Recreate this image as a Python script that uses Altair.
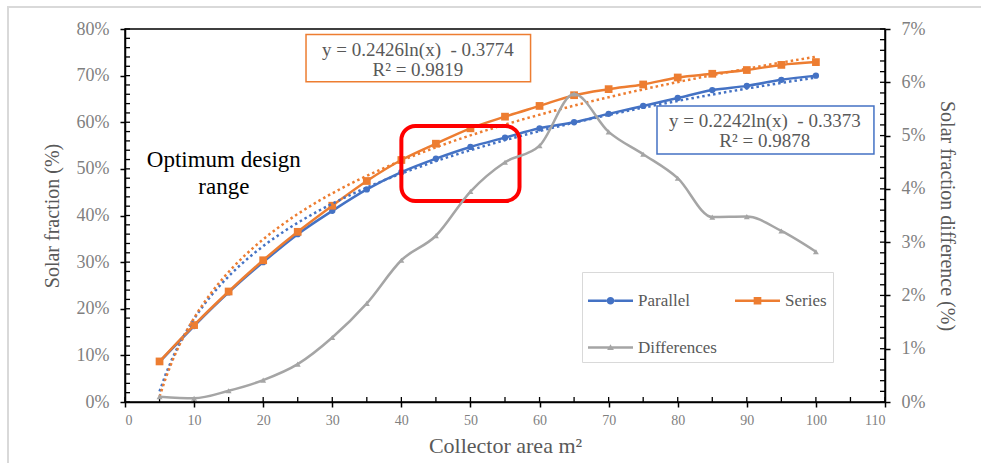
import altair as alt
import pandas as pd

# ---------------- data ----------------
area = [5, 10, 15, 20, 25, 30, 35, 40, 45, 50, 55, 60, 65, 70, 75, 80, 85, 90, 95, 100]
parallel_pct = [8.6, 16.3, 23.5, 30.0, 36.0, 41.0, 45.6, 49.3, 52.2, 54.7,
                56.7, 58.7, 60.0, 61.8, 63.5, 65.2, 66.9, 67.8, 69.1, 70.0]
series_pct = [8.7, 16.5, 23.7, 30.4, 36.5, 42.1, 47.4, 51.9, 55.4, 58.7,
              61.2, 63.5, 65.8, 67.1, 68.1, 69.6, 70.4, 71.2, 72.3, 72.9]
diff_pct = [0.10, 0.07, 0.21, 0.41, 0.71, 1.21, 1.85, 2.66, 3.12, 3.95,
            4.50, 4.81, 5.78, 5.07, 4.65, 4.20, 3.47, 3.48, 3.21, 2.82]

legend_names = ["Parallel", "Series", "Differences"]

left_ticks_pct = [0, 10, 20, 30, 40, 50, 60, 70, 80]
right_ticks_pct = [0, 1, 2, 3, 4, 5, 6, 7]
x_ticks = [0, 10, 20, 30, 40, 50, 60, 70, 80, 90, 100, 110]
left_minor_pct = list(range(0, 81, 2))
right_minor_pct = [round(i * 0.2, 1) for i in range(0, 36)]
x_minor = list(range(0, 111, 5))

eq_text = ["y = 0.2426ln(x) \u00a0- 0.3774", "R² = 0.9819",
           "y = 0.2242ln(x) \u00a0- 0.3373", "R² = 0.9878"]
eq_x = [42.4, 42.4, 92.6, 92.6]
eq_y_pct = [75.5, 71.2, 60.2, 55.9]

box_x = [26.2, 77.0]
box_x2 = [58.7, 108.4]
box_y_pct = [78.8, 63.5]
box_y2_pct = [68.7, 53.2]
box_color = ["#ED7D31", "#4472C4"]

opt_text = ["Optimum design", "range"]
opt_x = [14.3, 14.3]
opt_y_pct = [51.8, 46.2]

red_x, red_x2 = [40.0], [57.1]
red_y_pct, red_y2_pct = [59.2], [43.1]

# ---------------- styling ----------------
BLUE = "#4472C4"
ORANGE = "#ED7D31"
GRAY = "#A5A5A5"
TXT = "#595959"
LBL = "#7F7F7F"
FONT = "Liberation Serif"
W, H = 760, 373

df = pd.DataFrame({
    "area": area,
    "parallel": [v / 100 for v in parallel_pct],
    "series": [v / 100 for v in series_pct],
    "diff": [v / 100 for v in diff_pct],
})

x_scale = alt.Scale(domain=[0, 110], nice=False, zero=False)
yl_scale = alt.Scale(domain=[0, 0.8], nice=False)
yr_scale = alt.Scale(domain=[0, 0.07], nice=False)

axis_common = dict(
    grid=False, domainColor="black", domainWidth=1.5, tickColor="black",
    tickWidth=1.5, tickSize=5, labelFont=FONT, labelColor=LBL,
    titleFont=FONT, titleColor=TXT, titleFontWeight="normal",
)

x_axis = alt.Axis(title="Collector area m²", orient="bottom", values=x_ticks,
                  labelFontSize=14, labelPadding=6, titlePadding=8, titleFontSize=22,
                  **axis_common)
yl_axis = alt.Axis(title="Solar fraction (%)", orient="left",
                   values=[v / 100 for v in left_ticks_pct],
                   format=".0%", labelFontSize=18, labelPadding=11, titlePadding=14,
                   titleFontSize=20, **axis_common)
yr_axis = alt.Axis(title="Solar fraction difference (%)", orient="right",
                   values=[v / 100 for v in right_ticks_pct], format=".0%",
                   labelFontSize=18, labelPadding=11, titlePadding=12,
                   titleFontSize=20, **axis_common)

X = alt.X("area:Q", scale=x_scale, axis=None)

# axis carrier layers (invisible)
axis_left = alt.Chart(df).mark_point(opacity=0, size=1).encode(
    x=alt.X("area:Q", scale=x_scale, axis=x_axis),
    y=alt.Y("parallel:Q", scale=yl_scale, axis=yl_axis))
axis_right = alt.Chart(df).mark_point(opacity=0, size=1).encode(
    x=X, y=alt.Y("diff:Q", scale=yr_scale, axis=yr_axis))

# whole-figure frame (decoration)
frame = alt.Chart(pd.DataFrame({"a": [0]})).mark_rect(
    fillOpacity=0, stroke="#D9D9D9", strokeWidth=2
).encode(x=alt.value(-117), x2=alt.value(900), y=alt.value(-22), y2=alt.value(470))

par_line = alt.Chart(df).mark_line(color=BLUE, strokeWidth=2.5, interpolate="monotone").encode(
    x=X, y=alt.Y("parallel:Q", scale=yl_scale, axis=None))
par_pts = alt.Chart(df).mark_point(shape="circle", filled=True, size=40, color=BLUE, opacity=1).encode(
    x=X, y=alt.Y("parallel:Q", scale=yl_scale, axis=None))

ser_line = alt.Chart(df).mark_line(color=ORANGE, strokeWidth=2.5, interpolate="monotone").encode(
    x=X, y=alt.Y("series:Q", scale=yl_scale, axis=None))
ser_pts = alt.Chart(df).mark_point(shape="square", filled=True, size=60, color=ORANGE, opacity=1).encode(
    x=X, y=alt.Y("series:Q", scale=yl_scale, axis=None))

trend_par = alt.Chart(df).transform_regression(
    "area", "parallel", method="log", extent=[5, 100]
).mark_line(color=BLUE, strokeWidth=2.5, strokeDash=[2.5, 3]).encode(
    x=X, y=alt.Y("parallel:Q", scale=yl_scale, axis=None))

trend_ser = alt.Chart(df).transform_regression(
    "area", "series", method="log", extent=[5, 100]
).mark_line(color=ORANGE, strokeWidth=2.5, strokeDash=[2.5, 3]).encode(
    x=X, y=alt.Y("series:Q", scale=yl_scale, axis=None))

diff_line = alt.Chart(df).mark_line(color=GRAY, strokeWidth=2.5, interpolate="monotone").encode(
    x=X, y=alt.Y("diff:Q", scale=yr_scale, axis=None))
diff_pts = alt.Chart(df).mark_point(shape="triangle-up", filled=True, size=35, color=GRAY, opacity=1).encode(
    x=X, y=alt.Y("diff:Q", scale=yr_scale, axis=None))

# inner (minor) ticks
left_minor = alt.Chart(pd.DataFrame({"v": [v / 100 for v in left_minor_pct]})).mark_rule(
    color="black", strokeWidth=1.3
).encode(y=alt.Y("v:Q", scale=yl_scale, axis=None), x=alt.value(0), x2=alt.value(5))

bottom_minor = alt.Chart(pd.DataFrame({"v": x_minor})).mark_rule(
    color="black", strokeWidth=1.3
).encode(x=alt.X("v:Q", scale=x_scale, axis=None), y=alt.value(H - 5), y2=alt.value(H))

right_minor = alt.Chart(pd.DataFrame({"v": [v / 100 for v in right_minor_pct]})).mark_rule(
    color="black", strokeWidth=1.3
).encode(y=alt.Y("v:Q", scale=yr_scale, axis=None), x=alt.value(W - 5), x2=alt.value(W))

# annotations
red_box = alt.Chart(pd.DataFrame({
    "x": red_x, "x2": red_x2,
    "y": [v / 100 for v in red_y_pct], "y2": [v / 100 for v in red_y2_pct],
})).mark_rect(fillOpacity=0, stroke="#FF0000", strokeWidth=4, cornerRadius=14).encode(
    x=alt.X("x:Q", scale=x_scale, axis=None), x2="x2:Q",
    y=alt.Y("y:Q", scale=yl_scale, axis=None), y2="y2:Q")

eq_boxes = alt.Chart(pd.DataFrame({
    "x": box_x, "x2": box_x2,
    "y": [v / 100 for v in box_y_pct], "y2": [v / 100 for v in box_y2_pct],
    "c": box_color,
})).mark_rect(fill="white", strokeWidth=1.5).encode(
    x=alt.X("x:Q", scale=x_scale, axis=None), x2="x2:Q",
    y=alt.Y("y:Q", scale=yl_scale, axis=None), y2="y2:Q",
    stroke=alt.Stroke("c:N", scale=None))

eq_labels = alt.Chart(pd.DataFrame({
    "x": eq_x, "y": [v / 100 for v in eq_y_pct], "t": eq_text,
})).mark_text(font=FONT, fontSize=19, color=TXT, align="center", baseline="middle").encode(
    x=alt.X("x:Q", scale=x_scale, axis=None),
    y=alt.Y("y:Q", scale=yl_scale, axis=None), text="t:N")

opt_labels = alt.Chart(pd.DataFrame({
    "x": opt_x, "y": [v / 100 for v in opt_y_pct], "t": opt_text,
})).mark_text(font=FONT, fontSize=23, color="black", align="center", baseline="middle").encode(
    x=alt.X("x:Q", scale=x_scale, axis=None),
    y=alt.Y("y:Q", scale=yl_scale, axis=None), text="t:N")

# legend-only layer (draws no marks, only provides the legend)
sym_circle = ("M-1,-0.056H-0.17V0.056H-1Z M0.17,-0.056H1V0.056H0.17Z "
              "M-0.17,0A0.17,0.17 0 1,1 0.17,0A0.17,0.17 0 1,1 -0.17,0Z")
sym_square = "M-1,-0.056H1V0.056H-1Z M-0.17,-0.17H0.17V0.17H-0.17Z"
sym_tri = "M-1,-0.056H1V0.056H-1Z M0,-0.15L0.15,0.11H-0.15Z"

leg = alt.Legend(
    title=None, orient="none", legendX=457, legendY=243, columns=2, direction="horizontal",
    symbolSize=2025, symbolStrokeWidth=0, labelFont=FONT, labelFontSize=17,
    labelColor=TXT, labelOffset=5, columnPadding=18, rowPadding=16,
    padding=6, strokeColor="#D9D9D9", fillColor="white",
)
legend_layer = alt.Chart(pd.DataFrame({
    "name": legend_names, "area": [0, 0, 0], "val": [0, 0, 0],
})).transform_filter("datum.area > 1000").mark_point(filled=True, opacity=1).encode(
    x=X, y=alt.Y("val:Q", scale=yl_scale, axis=None),
    color=alt.Color("name:N", scale=alt.Scale(domain=legend_names,
                                              range=[BLUE, ORANGE, GRAY]), legend=leg),
    shape=alt.Shape("name:N", scale=alt.Scale(domain=legend_names,
                                              range=[sym_circle, sym_square, sym_tri]), legend=leg),
)

chart = alt.layer(
    axis_left, axis_right, frame, left_minor, bottom_minor, right_minor,
    par_line, par_pts, ser_line, ser_pts, trend_par, trend_ser,
    eq_boxes, eq_labels, opt_labels, red_box, legend_layer,
    diff_line, diff_pts,
).resolve_scale(x="independent", y="independent").properties(
    width=W, height=H,
    autosize=alt.AutoSizeParams(type="none"),
    padding={"left": 125, "top": 29, "right": 96, "bottom": 61},
    background="white",
).configure_view(stroke="black", strokeWidth=1.5)

chart.save("out.html", embed_options={"renderer": "svg", "actions": False})
